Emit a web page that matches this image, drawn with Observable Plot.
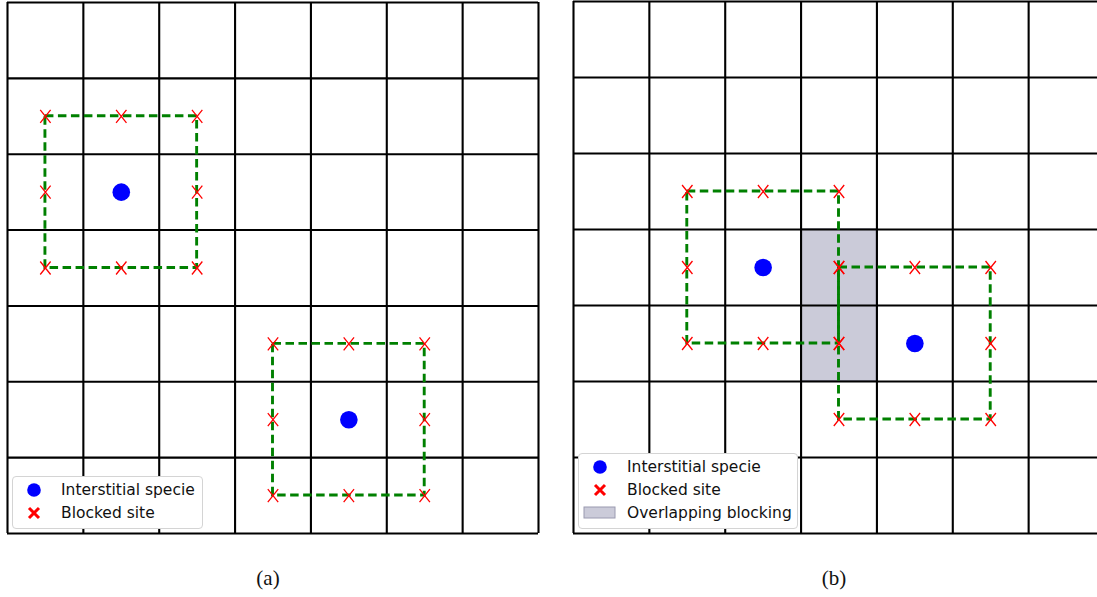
<!DOCTYPE html>
<html>
<head>
<meta charset="utf-8">
<script src="https://cdn.jsdelivr.net/npm/d3@7"></script>
<script src="https://cdn.jsdelivr.net/npm/@observablehq/plot@0.6"></script>
<style>
  html, body { margin: 0; padding: 0; background: #fff; }
  #root { position: relative; width: 1097px; height: 597px; overflow: hidden; font-family: "DejaVu Sans", sans-serif; }
  .panel { position: absolute; top: 0; width: 546px; height: 543px; }
  .panel svg { max-width: none !important; }
  .legend { position: absolute; background: #fff; border: 1px solid #d4d4d4; border-radius: 4px; box-sizing: border-box; }
  .row { position: absolute; left: 0; height: 20px; display: flex; align-items: center; font-size: 15.5px; color: #111; white-space: nowrap; }
  .row svg { position: absolute; }
  .row span { position: absolute; }
  .caption { position: absolute; top: 566px; font-family: "Liberation Serif", "DejaVu Serif", serif; font-size: 21px; color: #111; transform: translateX(-50%); }
</style>
</head>
<body>
<div id="root"></div>
<script>
// ---- data ----
const gridLines = [0, 1, 2, 3, 4, 5, 6, 7];
const speciesA = [{x: 1.5, y: 4.5}, {x: 4.5, y: 1.5}];
const speciesB = [{x: 2.5, y: 3.5}, {x: 4.5, y: 2.5}];
const blockOffsets = [-1, 0, 1];           // blocking reach of a specie (in cells)
const overlapB = [{x1: 3, x2: 4, y1: 2, y2: 4}];
const captions = ["(a)", "(b)"];
const legendLabels = ["Interstitial specie", "Blocked site", "Overlapping blocking"];

// ---- derived tables ----
function blockedSites(species) {
  const out = [];
  for (const s of species)
    for (const dx of blockOffsets)
      for (const dy of blockOffsets)
        if (dx !== 0 || dy !== 0) out.push({x: s.x + dx, y: s.y + dy});
  return out;
}
function squares(species) {
  return species.map(s => ({x1: s.x - 1, x2: s.x + 1, y1: s.y - 1, y2: s.y + 1}));
}

const xSymbol = {
  draw(ctx, size) {
    const r = Math.sqrt(size / Math.PI);
    const w = r * 0.8;
    ctx.moveTo(-w, -r); ctx.lineTo(w, r);
    ctx.moveTo(w, -r); ctx.lineTo(-w, r);
  }
};

function panel(species, overlap, marginTop) {
  const marks = [];
  if (overlap) marks.push(Plot.rect(overlap, {x1: "x1", x2: "x2", y1: "y1", y2: "y2", fill: "#cbcbd9", stroke: "#55556a", strokeWidth: 1, inset: 0}));
  marks.push(Plot.ruleX(gridLines, {stroke: "#000", strokeWidth: 2.1}));
  marks.push(Plot.ruleY(gridLines, {stroke: "#000", strokeWidth: 2.1}));
  marks.push(Plot.rect(squares(species), {x1: "x1", x2: "x2", y1: "y1", y2: "y2", fill: "none", stroke: "#008000", strokeWidth: 2.9, strokeDasharray: "8.5,4.5", inset: 0}));
  marks.push(Plot.dot(blockedSites(species), {x: "x", y: "y", symbol: xSymbol, r: 6.5, stroke: "#ff0000", strokeWidth: 1.3, fill: "none"}));
  marks.push(Plot.dot(species, {x: "x", y: "y", r: 8.8, fill: "#0000ff", stroke: "none"}));
  return Plot.plot({
    width: 546, height: 543,
    marginLeft: 7, marginRight: 8, marginTop: marginTop, marginBottom: 10,
    x: {domain: [0, 7], axis: null},
    y: {domain: [0, 7], axis: null},
    style: {background: "transparent", overflow: "visible", maxWidth: "none"},
    marks
  });
}

const root = document.getElementById("root");

const pa = panel(speciesA, null, 2);
const da = document.createElement("div"); da.className = "panel"; da.style.left = "0px"; da.appendChild(pa); root.appendChild(da);

const pb = panel(speciesB, overlapB, 1);
const db = document.createElement("div"); db.className = "panel"; db.style.left = "566px"; db.appendChild(pb); root.appendChild(db);

// ---- legends ----
const dotSw = '<svg width="16" height="16" style="left:-8px"><circle cx="8" cy="8" r="6.8" fill="#0000ff"/></svg>';
const xSw = '<svg width="16" height="16" style="left:-8px"><path d="M3,3L13,13M13,3L3,13" stroke="#ff0000" stroke-width="3"/></svg>';
const patchSw = '<svg width="34" height="14" style="left:-17px"><rect x="1" y="1" width="31" height="11" fill="#cbcbd9" stroke="#9a9ab0" stroke-width="1"/></svg>';

function legend(left, top, width, height, items) {
  const lg = document.createElement("div");
  lg.className = "legend";
  Object.assign(lg.style, {left: left + "px", top: top + "px", width: width + "px", height: height + "px"});
  items.forEach((it) => {
    const row = document.createElement("div");
    row.className = "row";
    row.style.top = (it.cy - top - 1 - 10) + "px";
    row.innerHTML = `<div style="position:absolute;left:${it.mx - left - 1}px;top:0;height:20px;display:flex;align-items:center">${it.sw}</div><span style="left:${it.tx - left - 1}px">${it.label}</span>`;
    lg.appendChild(row);
  });
  root.appendChild(lg);
}
legend(12, 476, 191, 53, [
  {cy: 490, mx: 34, tx: 61, sw: dotSw, label: legendLabels[0]},
  {cy: 513, mx: 34, tx: 61, sw: xSw, label: legendLabels[1]}
]);
legend(578, 453, 220, 76, [
  {cy: 467, mx: 600, tx: 627, sw: dotSw, label: legendLabels[0]},
  {cy: 490, mx: 600, tx: 627, sw: xSw, label: legendLabels[1]},
  {cy: 513, mx: 600, tx: 627, sw: patchSw, label: legendLabels[2]}
]);

// ---- captions ----
[[268, captions[0]], [834, captions[1]]].forEach(([cx, t]) => {
  const c = document.createElement("div");
  c.className = "caption"; c.style.left = cx + "px"; c.textContent = t;
  root.appendChild(c);
});
</script>
</body>
</html>
